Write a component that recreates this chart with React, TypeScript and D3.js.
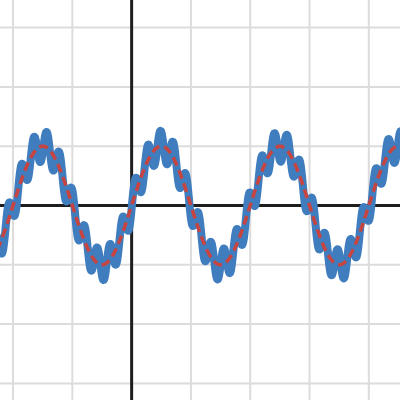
import React, { useEffect, useRef } from "react";
import * as d3 from "d3";

// visible window in graph units
const xExtent = [-2.22, 4.526];
const yExtent = [3.465, -3.28];
const gridSteps = [-2, -1, 0, 1, 2, 3, 4];
const gridStepsY = [-3, -2, -1, 0, 1, 2, 3];

// wave terms: base sine + fast ripple
const termAmplitudes = [1, 0.26];
const termFrequencies = [Math.PI, 29.45];
const termPhases = [0, Math.PI / 2 - 29.45 * 0.487];

const App = () => {
  const svgRef = useRef<SVGSVGElement>(null);

  useEffect(() => {
    const svg = d3.select(svgRef.current);
    svg.selectAll("*").remove();

    const width = 400;
    const height = 400;

    const x = d3.scaleLinear().domain(xExtent).range([0, width]);
    const y = d3.scaleLinear().domain(yExtent).range([0, height]);

    // grid
    const grid = svg.append("g").attr("stroke", "#dcdcdc").attr("stroke-width", 2);
    grid.selectAll(".gx")
      .data(gridSteps.filter(d => d !== 0))
      .enter().append("line")
      .attr("x1", d => x(d)).attr("x2", d => x(d))
      .attr("y1", 0).attr("y2", height);
    grid.selectAll(".gy")
      .data(gridStepsY.filter(d => d !== 0))
      .enter().append("line")
      .attr("y1", d => y(d)).attr("y2", d => y(d))
      .attr("x1", 0).attr("x2", width);

    // axes
    svg.append("line")
      .attr("x1", 0).attr("x2", width)
      .attr("y1", y(0)).attr("y2", y(0))
      .attr("stroke", "#1e1e1e").attr("stroke-width", 3);
    svg.append("line")
      .attr("x1", x(0)).attr("x2", x(0))
      .attr("y1", 0).attr("y2", height)
      .attr("stroke", "#1e1e1e").attr("stroke-width", 3);

    const xs = d3.range(xExtent[0] - 0.05, xExtent[1] + 0.05, 0.004);
    const base = (t: number) =>
      termAmplitudes[0] * Math.sin(termFrequencies[0] * t + termPhases[0]);
    const rippled = (t: number) =>
      base(t) + termAmplitudes[1] * Math.sin(termFrequencies[1] * t + termPhases[1]);

    const line = d3.line<number>();

    svg.append("path")
      .attr("d", line(xs.map(t => [x(t), y(rippled(t))]) as any))
      .attr("fill", "none")
      .attr("stroke", "#3f7dbf")
      .attr("stroke-width", 8)
      .attr("stroke-linejoin", "round")
      .attr("stroke-linecap", "round");

    svg.append("path")
      .attr("d", line(xs.map(t => [x(t), y(base(t))]) as any))
      .attr("fill", "none")
      .attr("stroke", "#c74440")
      .attr("stroke-width", 3.5)
      .attr("stroke-dasharray", "9,5");
  }, []);

  return (
    <svg
      ref={svgRef}
      width={400}
      height={400}
      style={{ position: "absolute", left: 0, top: 0, background: "#fff" }}
    ></svg>
  );
};

export default App;
